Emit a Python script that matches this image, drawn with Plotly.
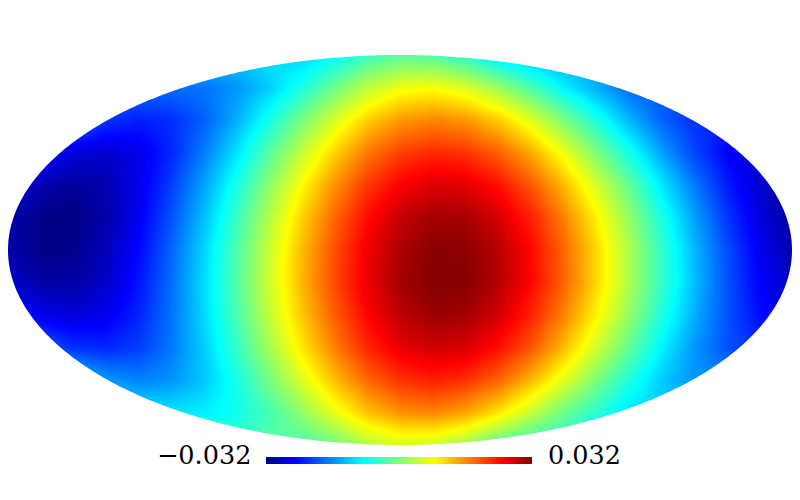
import numpy as np
import plotly.graph_objects as go

# map grid, in picture pixels
map_x = [8 + 32.667 * j for j in range(25)]
map_y = [55 + 32.5 * i for i in range(13)]

# temperature, in units of 0.001 (outside the ellipse: carried on from the edge)
row_00 = [-12, -12, -12, -12, -12, -12, -12, -12, -10.5, -11.7, -8.9, -4.6, -2.5, -3, -5.9, -10.8, -13.8, -15, -15, -15, -15, -15, -15, -15, -15]
row_01 = [-18, -18, -18, -18, -18, -17.9, -17.5, -15.3, -11.8, -6.5, -0.7, 4.5, 7.7, 8.5, 6.5, 2.2, -3.4, -9.1, -13.7, -18, -20, -20, -20, -20, -20]
row_02 = [-15.2, -17.2, -18, -21.7, -23.1, -22.1, -18.8, -13.6, -7.1, -0.2, 6.3, 11.7, 15.2, 16.5, 15.4, 11.9, 6.7, 0.1, -6.7, -13.3, -18.5, -22, -23.1, -22.1, -21.1]
row_03 = [-22.8, -24.1, -27.1, -27.7, -26.2, -22.5, -16.9, -10.1, -2.6, 4.9, 11.7, 17.3, 21, 22.5, 21.8, 18.9, 14.1, 7.7, 0.3, -7.2, -14.4, -20.5, -25, -27.4, -27.6]
row_04 = [-26.3, -29.4, -30.5, -29.3, -26.1, -21, -14.4, -6.8, 1.2, 8.9, 15.8, 21.4, 25.2, 27, 26.6, 24, 19.4, 13.2, 5.9, -2, -9.9, -17.1, -23.2, -27.6, -30.1]
row_05 = [-29.5, -31.7, -31.8, -29.7, -25.5, -19.7, -12.6, -4.6, 3.7, 11.6, 18.6, 24.3, 28.2, 30, 29.8, 27.3, 22.9, 16.8, 9.4, 1.4, -6.8, -14.6, -21.5, -26.9, -30.4]
row_06 = [-29.6, -31.5, -31.3, -28.9, -24.5, -18.5, -11.2, -3.1, 5.1, 13.1, 20.1, 25.7, 29.6, 31.5, 31.3, 28.9, 24.5, 18.5, 11.2, 3.1, -5.1, -13.1, -20.1, -25.7, -29.6]
row_07 = [-27.7, -29.9, -30, -27.9, -23.7, -17.9, -10.8, -2.8, 5.5, 13.4, 20.4, 26.1, 30, 31.8, 31.6, 29.1, 24.7, 18.6, 11.2, 3.2, -5, -12.8, -19.7, -25.1, -28.6]
row_08 = [-22.9, -26, -27.1, -25.9, -22.7, -17.6, -11, -3.4, 4.6, 12.3, 19.2, 24.8, 28.6, 30.4, 30, 27.4, 22.8, 16.6, 9.3, 1.4, -6.5, -13.7, -19.8, -24.2, -26.7]
row_09 = [-17.6, -18.9, -21.9, -22.5, -21, -17.3, -11.7, -4.9, 2.6, 10.1, 16.9, 22.5, 26.2, 27.7, 27, 24.1, 19.3, 12.9, 5.5, -2, -9.2, -15.3, -19.8, -22.2, -22.4]
row_10 = [-8.6, -10.6, -11.4, -15.1, -16.5, -15.5, -12.2, -7, -0.5, 6.4, 12.9, 18.3, 21.8, 23.1, 22, 18.5, 13.3, 6.7, -0.1, -6.7, -11.9, -15.4, -16.5, -15.5, -14.5]
row_11 = [-10, -10, -10, -10, -10, -10, -9.5, -7.5, -4, 1.3, 7.1, 12.3, 15.5, 16.3, 14.3, 10, 4.4, -1.3, -5.9, -10.5, -12, -12, -12, -12, -12]
row_12 = [-4, -4, -4, -4, -4, -4, -4, -4, -2.5, -3.7, -0.9, 3.4, 5.5, 5, 2.1, -2.8, -5.8, -7, -7, -7, -7, -7, -7, -7, -7]
temps = [row_00, row_01, row_02, row_03, row_04, row_05, row_06, row_07, row_08, row_09, row_10, row_11, row_12]

z_min = -32
z_max = 32
min_label = "\u22120.032"
max_label = "0.032"

jet = [
    [0.0, "rgb(0,0,128)"],
    [0.11, "rgb(0,0,255)"],
    [0.365, "rgb(0,255,255)"],
    [0.5, "rgb(125,255,122)"],
    [0.635, "rgb(255,255,0)"],
    [0.89, "rgb(255,0,0)"],
    [1.0, "rgb(128,0,0)"],
]

fig = go.Figure(go.Heatmap(
    x=map_x,
    y=map_y,
    z=temps,
    zmin=z_min,
    zmax=z_max,
    zsmooth="best",
    colorscale=jet,
    hoverinfo="skip",
    colorbar=dict(
        orientation="h",
        lenmode="pixels",
        len=266,
        thickness=7,
        xanchor="center",
        x=0.49875,
        yanchor="top",
        y=1 - 457 / 500,
        xpad=0,
        ypad=0,
        outlinewidth=0,
        borderwidth=0,
        ticks="",
        showticklabels=False,
    ),
))

# white mask round the Mollweide ellipse
t = np.linspace(0, 2 * np.pi, 721)
ex = 400 + 392 * np.cos(t)
ey = 250 + 195 * np.sin(t)
outline = "M" + " L".join(f"{a:.2f},{b:.2f}" for a, b in zip(ex, ey)) + " Z"
fig.add_shape(
    type="path",
    path="M-5,-5 L805,-5 L805,505 L-5,505 Z " + outline,
    fillcolor="white",
    line_width=0,
    layer="above",
)

label_font = dict(family="DejaVu Serif", size=25.5, color="black")
fig.add_annotation(x=253, y=455, text=min_label, showarrow=False, xanchor="right", font=label_font)
fig.add_annotation(x=546, y=455, text=max_label, showarrow=False, xanchor="left", font=label_font)

fig.update_layout(
    width=800,
    height=500,
    margin=dict(l=0, r=0, t=0, b=0),
    paper_bgcolor="white",
    plot_bgcolor="white",
    xaxis=dict(range=[0, 800], visible=False),
    yaxis=dict(range=[500, 0], visible=False),
)

fig.write_html("out.html", config=dict(displayModeBar=False),
               post_script="document.body.style.margin='0';document.body.style.overflow='hidden';")
